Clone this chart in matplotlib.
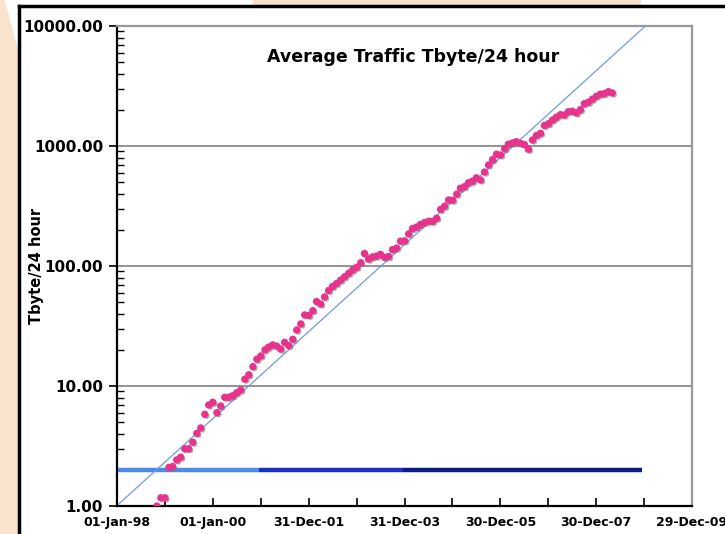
import numpy as np
import pandas as pd
import matplotlib
matplotlib.use("Agg")
import matplotlib.pyplot as plt
import matplotlib.patheffects as pe
from matplotlib.patches import Rectangle, Polygon
from matplotlib.lines import Line2D

# data (monthly average, Tbyte per 24 hours)
first_month = "1998-11-01"
traffic = [1.0, 1.17, 1.17, 2.10, 2.13, 2.42, 2.55, 3.0, 3.0, 3.40,
           4.03, 4.47, 5.81, 6.95, 7.32, 5.99, 6.81, 8.05, 8.05, 8.30,
           8.79, 9.26, 11.4, 12.4, 14.5, 16.7, 17.8, 20.0, 21.1, 22.0,
           21.5, 20.3, 23.1, 21.7, 24.5, 29.3, 32.9, 39.1, 38.8, 42.4,
           50.6, 48.2, 55.2, 62.5, 67.5, 71.5, 76.4, 81.4, 86.9, 92.6,
           97.5, 106.5, 127, 114, 119, 121, 125, 118, 120, 137,
           141, 161, 162, 185, 205, 211, 222, 230, 236, 235,
           250, 296, 315, 355, 353, 397, 445, 458, 494, 509,
           543, 521, 607, 695, 769, 855, 841, 948, 1035, 1059,
           1086, 1053, 1029, 939, 1122, 1223, 1276, 1482, 1534, 1647,
           1735, 1823, 1812, 1930, 1950, 1884, 2007, 2252, 2317, 2455,
           2600, 2704, 2729, 2835, 2766]

# trend line end points
trend_dates = ["1998-01-15", "2009-01-08"]
trend_vals = [1.04, 10000]

# horizontal level bar, split in three periods
level_value = 2.0
level_edges = ["1998-01-01", "2000-12-15", "2003-12-20", "2008-12-15"]
level_colors = ["#4d8ae8", "#1a30c2", "#0c1c86"]

axis_start = "1998-01-01"
tick_step_days = 365
n_ticks = 13

# figure
fig = plt.figure(figsize=(7.25, 5.34), dpi=100)
W, H = 725, 534

# background decoration (slide frame)
peach = "#fae3cc"
fig.patches.append(Rectangle((0, 0), 19 / W, 1, transform=fig.transFigure, color=peach, zorder=0))
fig.patches.append(Polygon([(5 / W, 1), (19 / W, 1), (19 / W, 1 - 51 / H)], closed=True,
                           transform=fig.transFigure, color="white", zorder=0))
fig.patches.append(Rectangle((253 / W, 1 - 6 / H), 387 / W, 6 / H, transform=fig.transFigure,
                             color=peach, zorder=0))
fig.lines.append(Line2D([19 / W, 19 / W], [0, 1 - 6 / H], transform=fig.transFigure,
                        color="black", lw=2.5))
fig.lines.append(Line2D([19 / W, 1], [1 - 6 / H, 1 - 6 / H], transform=fig.transFigure,
                        color="black", lw=2.5))

ax = fig.add_axes([117 / W, 28 / H, 575 / W, 480 / H])
ax.set_facecolor("white")
ax.set_yscale("log")

x0 = pd.Timestamp(axis_start)
x1 = x0 + pd.Timedelta(days=tick_step_days * (n_ticks - 1))
ax.set_xlim(x0, x1)
ax.set_ylim(1, 10000)

# grid
for v in [10, 100, 1000]:
    ax.axhline(v, color="#8a8a8a", lw=1.3, zorder=1)

# level bar
for i in range(len(level_colors)):
    ax.plot([pd.Timestamp(level_edges[i]), pd.Timestamp(level_edges[i + 1])],
            [level_value, level_value], color=level_colors[i], lw=3.2,
            solid_capstyle="butt", zorder=2)

# trend
ax.plot(pd.to_datetime(trend_dates), trend_vals, color="#6e9be3", lw=0.9, zorder=3)

# traffic dots
dates = pd.date_range(first_month, periods=len(traffic), freq="MS")
ax.plot(dates, traffic, linestyle="none", marker="o", ms=4.3, mfc="#e8338c", mec="#e8338c",
        zorder=4,
        path_effects=[pe.SimplePatchShadow(offset=(1.2, -1.2), shadow_rgbFace="#777777", alpha=0.6),
                      pe.Normal()])

# title
ax.text(0.515, 0.935, "Average Traffic Tbyte/24 hour", transform=ax.transAxes,
        ha="center", va="center", fontsize=12.5, fontweight="bold")

# y axis
ax.set_yticks([1, 10, 100, 1000, 10000])
ax.set_yticklabels(["%.2f" % v for v in [1, 10, 100, 1000, 10000]])
ax.yaxis.set_minor_locator(matplotlib.ticker.LogLocator(base=10, subs=np.arange(2, 10)))
ax.yaxis.set_minor_formatter(matplotlib.ticker.NullFormatter())
ax.tick_params(axis="y", which="major", direction="out", length=6, width=1.2,
               labelsize=11, pad=4)
ax.tick_params(axis="y", which="minor", direction="in", length=5, width=1)
for lab in ax.get_yticklabels():
    lab.set_fontweight("bold")
fig.text(36 / W, 1 - 266 / H, "Tbyte/24 hour", rotation=90, ha="center", va="center",
         fontsize=10.5, fontweight="bold")

# x axis
tick_pos = [x0 + pd.Timedelta(days=tick_step_days * k) for k in range(n_ticks)]
ax.set_xticks(tick_pos[::2])
ax.set_xticks(tick_pos[1::2], minor=True)
ax.set_xticklabels([t.strftime("%d-%b-%y") for t in tick_pos[::2]])
ax.tick_params(axis="x", which="both", direction="in", length=6, width=1.2,
               labelsize=9, pad=7)
for lab in ax.get_xticklabels():
    lab.set_fontweight("bold")

for s in ["left", "bottom"]:
    ax.spines[s].set_color("black")
    ax.spines[s].set_linewidth(1.6)
for s in ["top", "right"]:
    ax.spines[s].set_color("#999999")
    ax.spines[s].set_linewidth(1.6)

fig.savefig("out.png", dpi=100)
